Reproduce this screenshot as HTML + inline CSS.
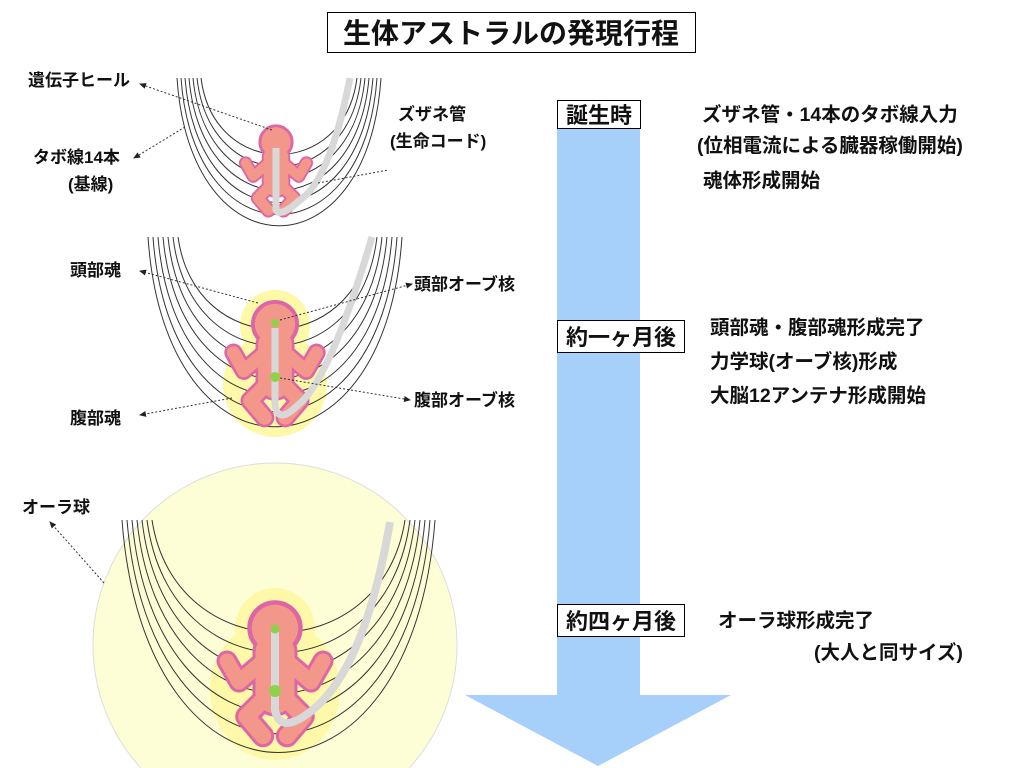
<!DOCTYPE html>
<html><head><meta charset="utf-8"><style>
html,body{margin:0;background:#fff;width:1024px;height:768px;overflow:hidden}
svg{display:block}
svg text{font-family:"Liberation Sans","Noto Sans CJK JP",sans-serif;font-weight:bold;fill:#111}
</style></head><body>
<svg width="1024" height="768" viewBox="0 0 1024 768" xmlns="http://www.w3.org/2000/svg">
<defs>
<marker id="ah" markerWidth="8" markerHeight="8" refX="6" refY="4" orient="auto"><path d="M0,1 L7,4 L0,7 z" fill="#222"/></marker>
<g id="baby">
 <g stroke="#de66a6" fill="none" stroke-linecap="round" stroke-linejoin="round">
  <line x1="0" y1="16" x2="0" y2="44" stroke-width="30"/>
  <polyline points="-10,24 -24,36 -32,22" stroke-width="14"/>
  <polyline points="10,24 24,36 32,22" stroke-width="14"/>
  <polyline points="-6,46 -19,59 -8,72" stroke-width="15"/>
  <polyline points="6,46 19,59 8,72" stroke-width="15"/>
  <circle cx="0" cy="0" r="17" fill="#de66a6" stroke-width="3"/>
 </g>
 <g stroke="#f2978a" fill="none" stroke-linecap="round" stroke-linejoin="round">
  <line x1="0" y1="16" x2="0" y2="44" stroke-width="26"/>
  <polyline points="-10,24 -24,36 -32,22" stroke-width="10"/>
  <polyline points="10,24 24,36 32,22" stroke-width="10"/>
  <polyline points="-6,46 -19,59 -8,72" stroke-width="11"/>
  <polyline points="6,46 19,59 8,72" stroke-width="11"/>
  <circle cx="0" cy="0" r="15.5" fill="#f2978a" stroke="none"/>
 </g>
</g>
</defs>

<rect x="327.5" y="12.5" width="368" height="40" fill="#fff" stroke="#000"/>
<text x="511" y="43" font-size="28" text-anchor="middle">生体アストラルの発現行程</text>

<rect x="557" y="128" width="83" height="568" fill="#a6cff9"/>
<polygon points="465,695 731,695 598,766" fill="#a6cff9"/>

<rect x="557.5" y="100.5" width="83" height="28" fill="#fff" stroke="#000"/>
<text x="599" y="123" font-size="22" text-anchor="middle">誕生時</text>
<rect x="557.5" y="320.5" width="127" height="32" fill="#fff" stroke="#000"/>
<text x="621" y="345" font-size="22" text-anchor="middle">約一ヶ月後</text>
<rect x="557.5" y="604.5" width="127" height="32" fill="#fff" stroke="#000"/>
<text x="621" y="629" font-size="22" text-anchor="middle">約四ヶ月後</text>

<g font-size="19.5">
<text x="702" y="121">ズザネ管・14本のタボ線入力</text>
<text x="697" y="152">(位相電流による臓器稼働開始)</text>
<text x="703" y="187">魂体形成開始</text>
<text x="710" y="334">頭部魂・腹部魂形成完了</text>
<text x="710" y="368">力学球(オーブ核)形成</text>
<text x="710" y="402">大脳12アンテナ形成開始</text>
<text x="718" y="627">オーラ球形成完了</text>
<text x="814" y="659">(大人と同サイズ)</text>
</g>

<!-- Stage 1 -->
<g fill="none" stroke="#333" stroke-width="1">
 <path d="M177,78 C190,275 368,275 381,78"/>
 <path d="M181,78 C194,260 364,260 377,78"/>
 <path d="M185,78 C198,244 360,244 373,78"/>
 <path d="M189,78 C202,228 356,228 369,78"/>
 <path d="M193,78 C206,212 352,212 365,78"/>
 <path d="M197,78 C210,196 348,196 361,78"/>
 <path d="M201,78 C214,180 344,180 357,78"/>
</g>
<use href="#baby" transform="translate(276,142) scale(0.95)"/>
<path d="M276,148 L276,210 Q280,218 300,200 Q330,180 350,78" fill="none" stroke="#d8d8d8" stroke-width="7"/>
<g font-size="17">
<text x="28" y="86">遺伝子ヒール</text>
<text x="33" y="163">タボ線14本</text>
<text x="68" y="190">(基線)</text>
<text x="398" y="120">ズザネ管</text>
<text x="390" y="147">(生命コード)</text>
</g>
<g stroke="#333" stroke-dasharray="2,2" fill="none" marker-end="url(#ah)">
<line x1="272" y1="130" x2="140" y2="84"/>
<line x1="185" y1="127" x2="134" y2="158"/>
</g>
<line x1="318" y1="183" x2="388" y2="170" stroke="#333" stroke-dasharray="2,2"/>

<!-- Stage 2 -->
<ellipse cx="275" cy="385" rx="52" ry="52" fill="#fdf9a8"/>
<circle cx="275" cy="325" r="35" fill="#fdf9a8"/>
<g fill="none" stroke="#333" stroke-width="1">
 <path d="M148,237 C165,490 385,490 402,237"/>
 <path d="M153,237 C170,470 380,470 397,237"/>
 <path d="M158,237 C175,448 375,448 392,237"/>
 <path d="M163,237 C180,426 370,426 387,237"/>
 <path d="M168,237 C185,404 365,404 382,237"/>
 <path d="M173,237 C190,382 360,382 377,237"/>
 <path d="M178,237 C195,360 355,360 372,237"/>
</g>
<use href="#baby" transform="translate(275,324) scale(1.3)"/>
<path d="M275,328 L275,405 Q278,425 298,405 Q330,380 372,237" fill="none" stroke="#d8d8d8" stroke-width="7"/>
<circle cx="275" cy="323" r="4" fill="#8fd24a"/>
<circle cx="275" cy="377" r="5" fill="#8fd24a"/>
<g font-size="17">
<text x="70" y="276">頭部魂</text>
<text x="414" y="290">頭部オーブ核</text>
<text x="414" y="406">腹部オーブ核</text>
<text x="70" y="424">腹部魂</text>
</g>
<g stroke="#333" stroke-dasharray="2,2" fill="none" marker-end="url(#ah)">
<line x1="258" y1="303" x2="140" y2="271"/>
<line x1="280" y1="320" x2="412" y2="284"/>
<line x1="280" y1="378" x2="410" y2="400"/>
<line x1="232" y1="398" x2="140" y2="415"/>
</g>

<!-- Stage 3 -->
<circle cx="275" cy="645" r="182" fill="#fefed6" stroke="#ddd" stroke-width="1"/>
<ellipse cx="275" cy="690" rx="65" ry="70" fill="#fdf9a8"/>
<circle cx="275" cy="628" r="40" fill="#fdf9a8"/>
<g fill="none" stroke="#333" stroke-width="1">
 <path d="M122,520 C145,830 412,830 435,520"/>
 <path d="M127,520 C150,805 407,805 430,520"/>
 <path d="M132,520 C155,778 402,778 425,520"/>
 <path d="M137,520 C160,751 397,751 420,520"/>
 <path d="M142,520 C165,724 392,724 415,520"/>
 <path d="M147,520 C170,697 387,697 410,520"/>
 <path d="M152,520 C175,670 382,670 405,520"/>
</g>
<use href="#baby" transform="translate(275,628) scale(1.5)"/>
<path d="M275,632 L275,710 Q280,735 310,712 Q365,670 390,522" fill="none" stroke="#d8d8d8" stroke-width="8"/>
<circle cx="275" cy="629" r="4.5" fill="#8fd24a"/>
<circle cx="275" cy="691" r="6" fill="#8fd24a"/>
<text x="22" y="513" font-size="17">オーラ球</text>
<line x1="104" y1="583" x2="50" y2="522" stroke="#333" stroke-dasharray="2,2" marker-end="url(#ah)"/>
</svg>
</body></html>
